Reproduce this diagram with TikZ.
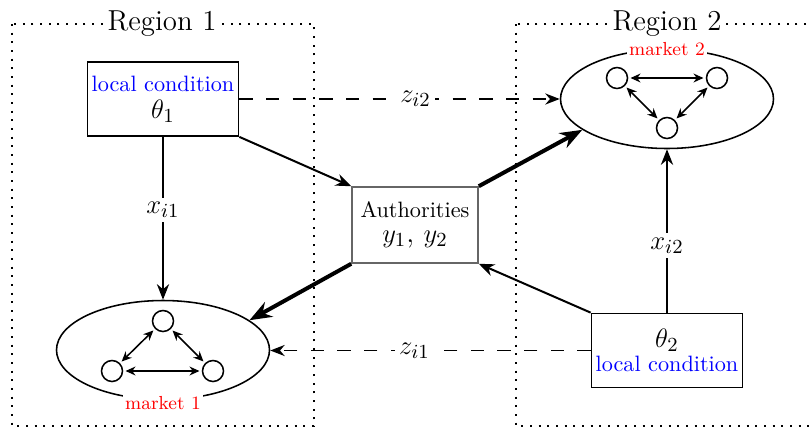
\documentclass[tikz,border=0pt]{standalone}
\usetikzlibrary{shapes.geometric,arrows.meta}

\newcommand{\bigmath}{\fontsize{13}{15}\selectfont}

\begin{document}
\begin{tikzpicture}[x=0.45pt,y=-0.45pt,
  regionline/.style={line width=0.9pt,dash pattern=on 0.9pt off 3pt},
  regionlabel/.style={fill=white,inner sep=1pt,font=\bigmath},
  condbox/.style={draw,line width=0.8pt,fill=white,inner sep=0pt,align=center,
    minimum width=151*0.45pt,minimum height=74*0.45pt},
  authbox/.style={draw=black!60,line width=0.7pt,fill=white,inner sep=0pt,align=center,
    minimum width=126*0.45pt,minimum height=76*0.45pt},
  market/.style={draw,ellipse,line width=0.7pt,inner sep=0pt,
    minimum width=213*0.45pt,minimum height=99*0.45pt},
  agent/.style={draw,circle,line width=0.7pt,inner sep=0pt,minimum size=21*0.45pt},
  mlabel/.style={fill=white,inner sep=0.8pt,text=red,font=\fontsize{8.5}{10}\selectfont},
  link/.style={{Stealth[length=4.5pt,width=4pt]}-{Stealth[length=4.5pt,width=4pt]},
    line width=0.7pt,shorten <=1pt,shorten >=1pt},
  influence/.style={-{Stealth[length=7pt,width=5.5pt]},line width=0.9pt},
  strong/.style={-{Stealth[length=10pt,width=7.5pt]},line width=1.8pt},
  spill/.style={-{Stealth[length=6.5pt,width=5pt]},line width=0.75pt,dash pattern=on 6pt off 6pt},
  elabel/.style={fill=white,inner sep=2pt,font=\bigmath}
]
\clip (0,0) rectangle (812,428);

% regions
\draw[regionline] (12,24) rectangle (314,426);
\draw[regionline] (516,24) rectangle (818,426);
\node[regionlabel] (r1) at (162,24) {Region 1};
\node[regionlabel] (r2) at (667,24) {Region 2};

% local conditions and authorities
\node[condbox] (t1) at (163,99) {\textcolor{blue}{local condition}\\{\bigmath$\theta_1$}};
\node[condbox] (t2) at (667,350.5) {{\bigmath$\theta_2$}\\[-1.5pt]\textcolor{blue}{local condition}};
\node[authbox] (auth) at (415,225) {Authorities\\[-0.5pt]{\bigmath$y_1$, $y_2$}};

% markets
\node[market] (m1) at (163,350) {};
\node[market] (m2) at (667,99) {};
\node[mlabel] (ml1) at (163,403) {market 1};
\node[mlabel] (ml2) at (667,49) {market 2};

% agents inside market 1
\node[agent] (a1) at (163,321) {};
\node[agent] (a2) at (112,371) {};
\node[agent] (a3) at (213,371) {};
\draw[link] (a1) -- (a2);
\draw[link] (a1) -- (a3);
\draw[link] (a2) -- (a3);

% agents inside market 2
\node[agent] (b1) at (617,78) {};
\node[agent] (b2) at (717,78) {};
\node[agent] (b3) at (667,128) {};
\draw[link] (b1) -- (b2);
\draw[link] (b1) -- (b3);
\draw[link] (b2) -- (b3);

% connectors
\draw[influence] (t1.south) -- node[elabel,pos=0.45] {$x_{i1}$} (m1.north);
\draw[influence] (t2.north) -- node[elabel,pos=0.41] {$x_{i2}$} (m2.south);
\draw[influence] (t1.south east) -- (auth.north west);
\draw[influence] (t2.north west) -- (auth.south east);
\draw[strong] (auth.north east) -- (m2.200);
\draw[strong] (auth.south west) -- (m1.19);
\draw[spill] (t1.east) -- node[elabel,pos=0.55] {$z_{i2}$} (m2.west);
\draw[spill] (t2.west) -- node[elabel,pos=0.55] {$z_{i1}$} (t2.west -| m1.east);
\end{tikzpicture}
\end{document}
